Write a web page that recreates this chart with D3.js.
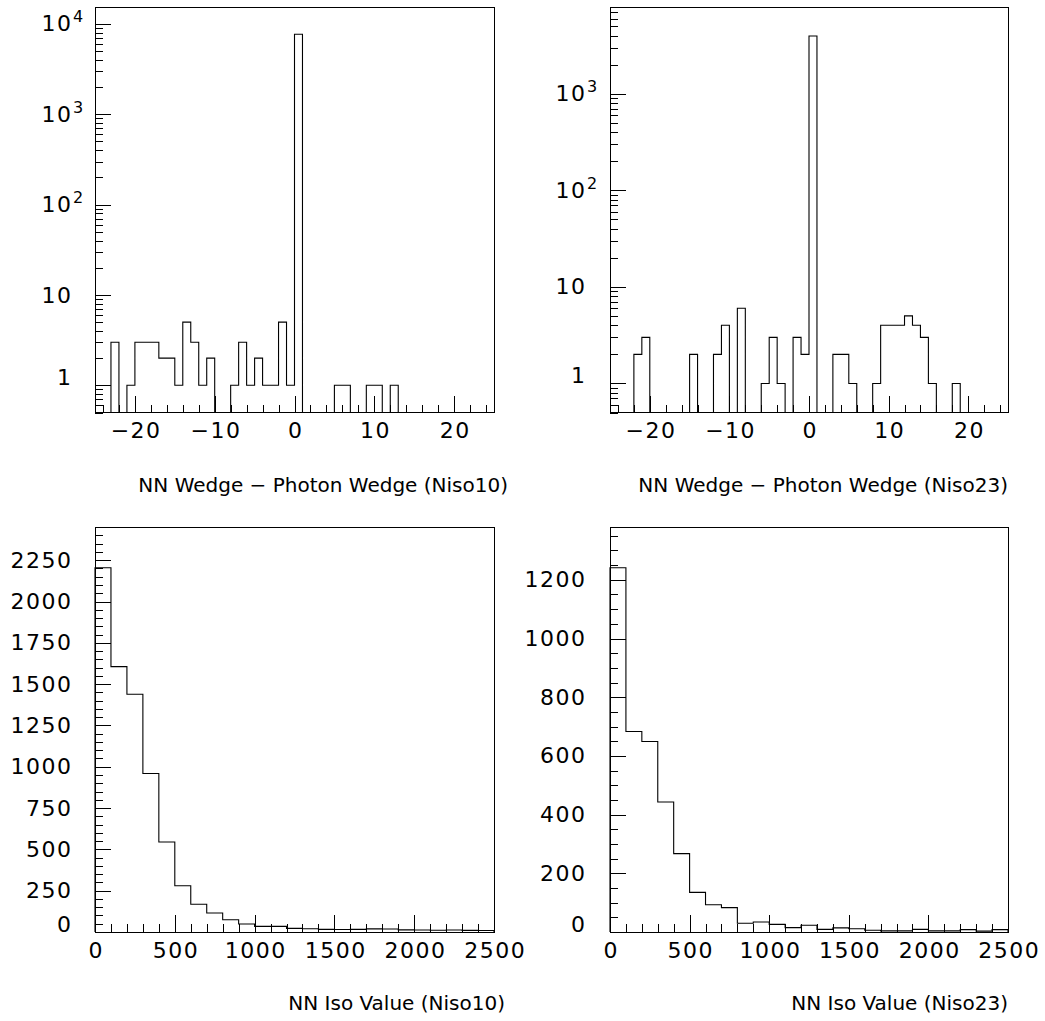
<!DOCTYPE html>
<html><head><meta charset="utf-8">
<script src="https://cdn.jsdelivr.net/npm/d3@7"></script>
<style>
body{margin:0;background:#fff}
svg{display:block}
text{font-family:"DejaVu Sans",sans-serif;fill:#000}
</style></head><body>
<svg id="c" width="1045" height="1021"></svg>
<script>
// ---------- data ----------
const wedgeRange = [-25, 25];
const wedgeNiso10 = [0,0,3,0,1,3,3,3,2,2,1,5,3,1,2,0,0,1,3,1,2,1,1,5,1,7700,0,0,0,0,1,1,0,0,1,1,0,1,0,0,0,0,0,0,0,0,0,0,0,0];
const wedgeNiso23 = [0,0,0,2,3,0,0,0,0,0,2,0,0,2,4,0,6,0,0,1,3,1,0,3,2,3950,0,0,2,2,1,0,0,1,4,4,4,5,4,3,1,0,0,1,0,0,0,0,0,0];
const isoRange = [0, 2500];
const isoNiso10 = [2204,1606,1439,959,545,280,168,115,74,48,34,34,22,20,16,15,16,19,18,13,12,11,12,10,9];
const isoNiso23 = [1241,683,649,443,267,135,93,83,30,34,26,15,23,9,14,11,6,4,4,9,4,4,8,3,8];

const wedgeMajorTicks = [-20,-10,0,10,20];
const wedgeTickLabels = ["\u221220","\u221210","0","10","20"];
const isoMajorTicks = [0,500,1000,1500,2000,2500];
const isoTickLabels = ["0","500","1000","1500","2000","2500"];
const logMajorTicks = [1,10,100,1000,10000];
const logTickBase = ["1","10","10","10","10"];
const logTickExp = ["","","2","3","4"];
const isoY10Ticks = [0,250,500,750,1000,1250,1500,1750,2000,2250];
const isoY23Ticks = [0,200,400,600,800,1000,1200];
const titles = ["NN Wedge \u2212 Photon Wedge (Niso10)","NN Wedge \u2212 Photon Wedge (Niso23)","NN Iso Value (Niso10)","NN Iso Value (Niso23)"];

// ---------- drawing ----------
const svg = d3.select("#c");
const LABEL_FS = 22, TITLE_FS = 20, LS = 1.5;

function range(a,b,s){const r=[];for(let v=a;v<=b+1e-9;v+=s)r.push(+v.toFixed(6));return r;}

function drawPanel(p){
  const g = svg.append("g");
  const x = d3.scaleLinear().domain(p.xRange).range([p.left,p.right]);
  const bins = p.bins;
  const maxV = d3.max(bins);
  let y, yMinorTicks;
  if(p.log){
    y = d3.scaleLog().domain([0.5, 2*maxV]).range([p.bottom,p.top]);
    yMinorTicks = [];
    for(let e=-1;e<=5;e++)for(let k=2;k<=9;k++){const v=k*Math.pow(10,e);if(v>=0.5&&v<=2*maxV)yMinorTicks.push(v);}
  } else {
    y = d3.scaleLinear().domain([0, maxV*1.112]).range([p.bottom,p.top]);
    yMinorTicks = range(0, maxV*1.112, 50);
  }
  const yv = v => (p.log ? (v>0 ? y(v) : p.bottom) : y(v));

  // histogram outline
  const w = (p.xRange[1]-p.xRange[0])/bins.length;
  const pts = [[p.xRange[0], null]];
  bins.forEach((v,i)=>{const x0=p.xRange[0]+i*w; pts.push([x0,v],[x0+w,v]);});
  pts.push([p.xRange[1], null]);
  const line = d3.line().x(d=>x(d[0])).y(d=>d[1]===null? p.bottom : yv(d[1]));
  g.append("path").attr("d", line(pts)).attr("fill","none").attr("stroke","#000").attr("stroke-width",1.1);

  // x axis ticks (inward)
  const xMinor = d3.axisBottom(x).tickValues(p.xMinor).tickSize(-8).tickFormat("");
  const gxm = g.append("g").attr("transform",`translate(0,${p.bottom})`).call(xMinor);
  const xMajor = d3.axisBottom(x).tickValues(p.xMajor).tickSize(-17).tickPadding(10)
      .tickFormat((d,i)=>p.xLabels[i]);
  const gx = g.append("g").attr("transform",`translate(0,${p.bottom})`).call(xMajor);

  // y axis ticks (inward)
  const yMinor = d3.axisLeft(y).tickValues(yMinorTicks).tickSize(-8).tickFormat("");
  const gym = g.append("g").attr("transform",`translate(${p.left},0)`).call(yMinor);
  const yMajor = d3.axisLeft(y).tickValues(p.yMajor).tickSize(-16).tickPadding(p.yPad)
      .tickFormat((d,i)=>p.yBase ? p.yBase[i] : String(d));
  const gy = g.append("g").attr("transform",`translate(${p.left},0)`).call(yMajor);

  [gxm,gx,gym,gy].forEach(a=>{
    a.select(".domain").remove();
    a.selectAll("line").attr("stroke","#000").attr("shape-rendering","crispEdges");
    a.selectAll("text").attr("font-family","DejaVu Sans").attr("font-size",LABEL_FS).attr("fill","#000")
      .attr("letter-spacing",LS+"px");
  });
  gx.selectAll("text").attr("dx", LS/2);
  gy.selectAll("text").attr("dx", LS);
  // lowest y label is lifted a little (as in the original)
  gy.selectAll(".tick").filter((d,i)=>i===0).select("text").attr("transform","translate(0,-8)");
  // exponents
  if(p.yExp){
    gy.selectAll(".tick").each(function(d,i){
      if(!p.yExp[i]) return;
      d3.select(this).append("text").attr("x",-p.yPad+2).attr("y",-2)
        .attr("text-anchor","start").attr("font-size",16).attr("font-family","DejaVu Sans").attr("fill","#000")
        .text(p.yExp[i]);
    });
  }

  // frame
  g.append("rect").attr("x",p.left).attr("y",p.top).attr("width",p.right-p.left).attr("height",p.bottom-p.top)
    .attr("fill","none").attr("stroke","#000").attr("stroke-width",1).attr("shape-rendering","crispEdges");

  // title
  g.append("text").attr("x",p.titleX).attr("y",p.titleY).attr("text-anchor","end")
    .attr("font-size",TITLE_FS).text(p.title);
}

const L=[95,494], R=[610,1008], T=[7,412.5], B=[527,932];
const wedgeMinor = range(-24,24,2);
const isoMinor = range(0,2500,100);

drawPanel({left:L[0],right:L[1],top:T[0],bottom:T[1],xRange:wedgeRange,bins:wedgeNiso10,log:true,
  xMinor:wedgeMinor,xMajor:wedgeMajorTicks,xLabels:wedgeTickLabels,yMajor:logMajorTicks,yBase:logTickBase,yExp:logTickExp,yPad:24,
  title:titles[0],titleX:508,titleY:492});
drawPanel({left:R[0],right:R[1],top:T[0],bottom:T[1],xRange:wedgeRange,bins:wedgeNiso23,log:true,
  xMinor:wedgeMinor,xMajor:wedgeMajorTicks,xLabels:wedgeTickLabels,yMajor:logMajorTicks.slice(0,4),yBase:logTickBase,yExp:logTickExp,yPad:25,
  title:titles[1],titleX:1008,titleY:492});
drawPanel({left:L[0],right:L[1],top:B[0],bottom:B[1],xRange:isoRange,bins:isoNiso10,log:false,
  xMinor:isoMinor,xMajor:isoMajorTicks,xLabels:isoTickLabels,yMajor:isoY10Ticks,yPad:24,
  title:titles[2],titleX:505,titleY:1010});
drawPanel({left:R[0],right:R[1],top:B[0],bottom:B[1],xRange:isoRange,bins:isoNiso23,log:false,
  xMinor:isoMinor,xMajor:isoMajorTicks,xLabels:isoTickLabels,yMajor:isoY23Ticks,yPad:25,
  title:titles[3],titleX:1008,titleY:1010});
</script>
</body></html>
